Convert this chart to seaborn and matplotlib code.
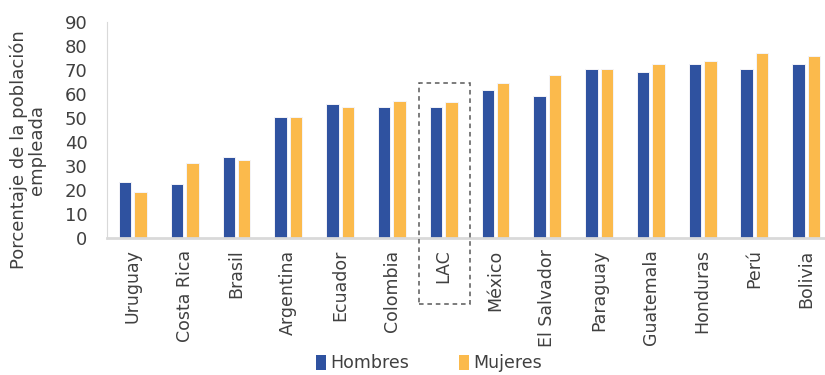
import matplotlib
matplotlib.use("Agg")
import matplotlib.pyplot as plt
from matplotlib.patches import Rectangle, Patch
import pandas as pd
import seaborn as sns

# Employment share by country and sex
paises = ["Uruguay", "Costa Rica", "Brasil", "Argentina", "Ecuador", "Colombia",
          "LAC", "México", "El Salvador", "Paraguay", "Guatemala", "Honduras",
          "Perú", "Bolivia"]
hombres = [23.6, 22.5, 33.6, 50.3, 55.8, 54.7, 54.7, 61.5, 59.2, 70.3, 69.2, 72.5, 70.3, 72.5]
mujeres = [19.2, 31.4, 32.5, 50.3, 54.7, 56.9, 56.7, 64.7, 68.0, 70.3, 72.5, 73.6, 76.9, 75.8]
grupos = ["Hombres", "Mujeres"]
colores = ["#2F52A0", "#FBBA4C"]
y_ticks = [0, 10, 20, 30, 40, 50, 60, 70, 80, 90]

df = pd.DataFrame({
    "pais": paises * 2,
    "valor": hombres + mujeres,
    "sexo": [grupos[0]] * len(paises) + [grupos[1]] * len(paises),
})

sns.set_style("white")
plt.rcParams["font.family"] = ["DejaVu Sans"]
text_color = "#404040"

fig = plt.figure(figsize=(8.25, 3.75), dpi=100)
ax = fig.add_axes([0.1297, 0.3645, 0.879, 0.5775])

sns.barplot(data=df, x="pais", y="valor", hue="sexo", order=paises,
            hue_order=grupos, palette=colores, saturation=1, width=0.6,
            gap=0.2, edgecolor="#F4F4F8", linewidth=0.7, ax=ax, legend=False)

ax.set_xlim(-0.5, len(paises) - 0.5)
ax.set_ylim(0, 90)
ax.set_yticks(y_ticks)
ax.tick_params(axis="y", labelsize=13, labelcolor=text_color, length=0, pad=14)
ax.tick_params(axis="x", labelsize=12.5, labelcolor=text_color, length=0, pad=8)
for lbl in ax.get_xticklabels():
    lbl.set_rotation(90)
ax.set_xlabel("")
ax.set_ylabel("Porcentaje de la población\nempleada", fontsize=13,
              color=text_color, linespacing=1.0)
ax.yaxis.set_label_coords(-0.084, 0.41)

for side in ["top", "right"]:
    ax.spines[side].set_visible(False)
ax.spines["left"].set_color("#D9D9D9")
ax.spines["left"].set_linewidth(0.8)
ax.spines["bottom"].set_color("#D9D9D9")
ax.spines["bottom"].set_linewidth(2.0)

# Dashed frame highlighting the regional average
i_lac = paises.index("LAC")
ax.add_patch(Rectangle((i_lac - 0.47, -27.4), 0.98, 92.1, fill=False,
                       edgecolor="#595959", linestyle=(0, (3, 2.5)),
                       linewidth=1.1, clip_on=False, zorder=5))

handles = [Patch(facecolor=c, edgecolor="none") for c in colores]
fig.legend(handles, grupos, loc="lower center", bbox_to_anchor=(0.52, -0.035),
           ncol=2, frameon=False, fontsize=12.5, handlelength=0.55,
           handleheight=1.0, handletextpad=0.25, columnspacing=2.9,
           labelcolor=text_color)

fig.savefig("out.png", dpi=100)
